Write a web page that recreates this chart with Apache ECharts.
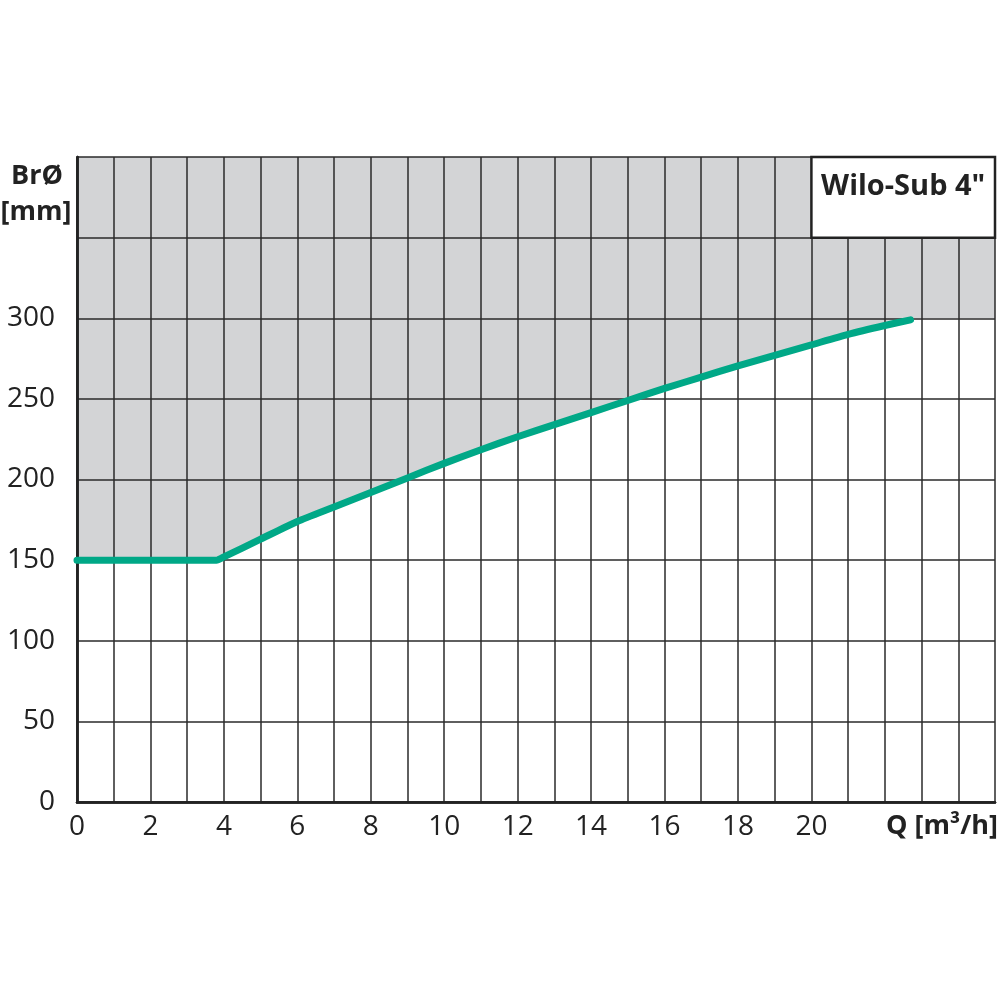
<!DOCTYPE html>
<html>
<head>
<meta charset="utf-8">
<script src="https://cdn.jsdelivr.net/npm/echarts@6/dist/echarts.min.js"></script>
<style>html,body{margin:0;padding:0;background:#fff;}#c{width:1000px;height:1000px;}</style>
</head>
<body>
<div id="c"></div>
<script>
// Flow rate Q [m3/h] and minimum borehole diameter [mm]
const qValues = [0, 3.8, 4, 5, 6, 7, 8, 9, 10, 11, 12, 13, 14, 15, 16, 17, 18, 19, 20, 21, 22, 22.7];
const diamValues = [150, 150, 152, 163, 174, 183, 192, 201, 210, 218.5, 226.5, 234, 241.5, 249, 256.5, 263.5, 270.5, 277, 283.5, 290, 295.5, 299];
// shaded (not permitted) region continues at 300 mm to the end of the axis
const shadeExtQ = [22.7, 25];
const shadeExtD = [300, 300];
const xTickLabels = [0, 2, 4, 6, 8, 10, 12, 14, 16, 18, 20];
const yTickLabels = [0, 50, 100, 150, 200, 250, 300];
const boxLabel = 'Wilo-Sub 4"';
const yName = ['BrØ', '[mm]'];
const xName = 'Q [m³/h]';

const curve = qValues.map((q, i) => [q, diamValues[i]]);
const shade = curve.slice(0, -1).concat(shadeExtQ.map((q, i) => [q, shadeExtD[i]]));

const FONT = '"Open Sans", "Noto Sans", sans-serif';
const chart = echarts.init(document.getElementById('c'), null, {renderer: 'canvas'});
chart.setOption({
  animation: false,
  backgroundColor: '#fff',
  grid: {left: 77, right: 5, top: 157, bottom: 198, containLabel: false},
  xAxis: [{
    type: 'value', min: 0, max: 25, interval: 1, z: 3,
    axisLine: {show: true, onZero: false, lineStyle: {color: '#222', width: 2.5}},
    axisTick: {show: false},
    splitLine: {show: true, lineStyle: {color: '#2a2a2a', width: 1.5}},
    axisLabel: {
      margin: 11, fontFamily: FONT, fontSize: 28, color: '#222',
      formatter: v => xTickLabels.indexOf(v) >= 0 ? String(v) : ''
    }
  }, {
    type: 'value', position: 'top', min: 0, max: 25, z: 4,
    axisLine: {show: true, lineStyle: {color: '#222', width: 2.5}},
    axisTick: {show: false}, axisLabel: {show: false}, splitLine: {show: false}
  }],
  yAxis: [{
    type: 'value', min: 0, max: 400, interval: 50, z: 3,
    axisLine: {show: true, onZero: false, lineStyle: {color: '#222', width: 2.5}},
    axisTick: {show: false},
    splitLine: {show: true, lineStyle: {color: '#2a2a2a', width: 1.5}},
    axisLabel: {
      margin: 22, fontFamily: FONT, fontSize: 28, color: '#222',
      formatter: v => yTickLabels.indexOf(v) >= 0 ? String(v) : ''
    }
  }, {
    type: 'value', position: 'right', min: 0, max: 400, z: 4,
    axisLine: {show: true, lineStyle: {color: '#222', width: 2.5}},
    axisTick: {show: false}, axisLabel: {show: false}, splitLine: {show: false}
  }],
  series: [{
    type: 'line', name: 'shade', data: shade, z: 1,
    symbol: 'none', silent: true, smooth: 0.2,
    lineStyle: {width: 0, opacity: 0},
    areaStyle: {origin: 'end', color: '#d3d4d6', opacity: 1}
  }, {
    type: 'line', name: 'Wilo-Sub 4"', data: curve, z: 5,
    symbol: 'none', smooth: 0.2,
    lineStyle: {color: '#00a887', width: 7, cap: 'round', join: 'round'},
    markArea: {
      silent: true, z: 6,
      itemStyle: {color: '#ffffff', borderColor: '#222', borderWidth: 2.5, opacity: 1},
      label: {
        show: true, position: 'inside', offset: [0, -11],
        fontFamily: FONT, fontWeight: 'bold', fontSize: 29, color: '#222'
      },
      data: [[{name: boxLabel, coord: [20, 350]}, {coord: [25, 400]}]]
    }
  }],
  graphic: [{
    type: 'text', x: 37, y: 176, z: 10,
    style: {text: yName[0], fontFamily: FONT, fontWeight: 'bold', fontSize: 27, fill: '#222', textAlign: 'center', textVerticalAlign: 'middle'}
  }, {
    type: 'text', x: 36, y: 212, z: 10,
    style: {text: yName[1], fontFamily: FONT, fontWeight: 'bold', fontSize: 27, fill: '#222', textAlign: 'center', textVerticalAlign: 'middle'}
  }, {
    type: 'text', x: 998, y: 826, z: 10,
    style: {text: xName, fontFamily: FONT, fontWeight: 'bold', fontSize: 27, fill: '#222', textAlign: 'right', textVerticalAlign: 'middle'}
  }]
});
</script>
</body>
</html>
